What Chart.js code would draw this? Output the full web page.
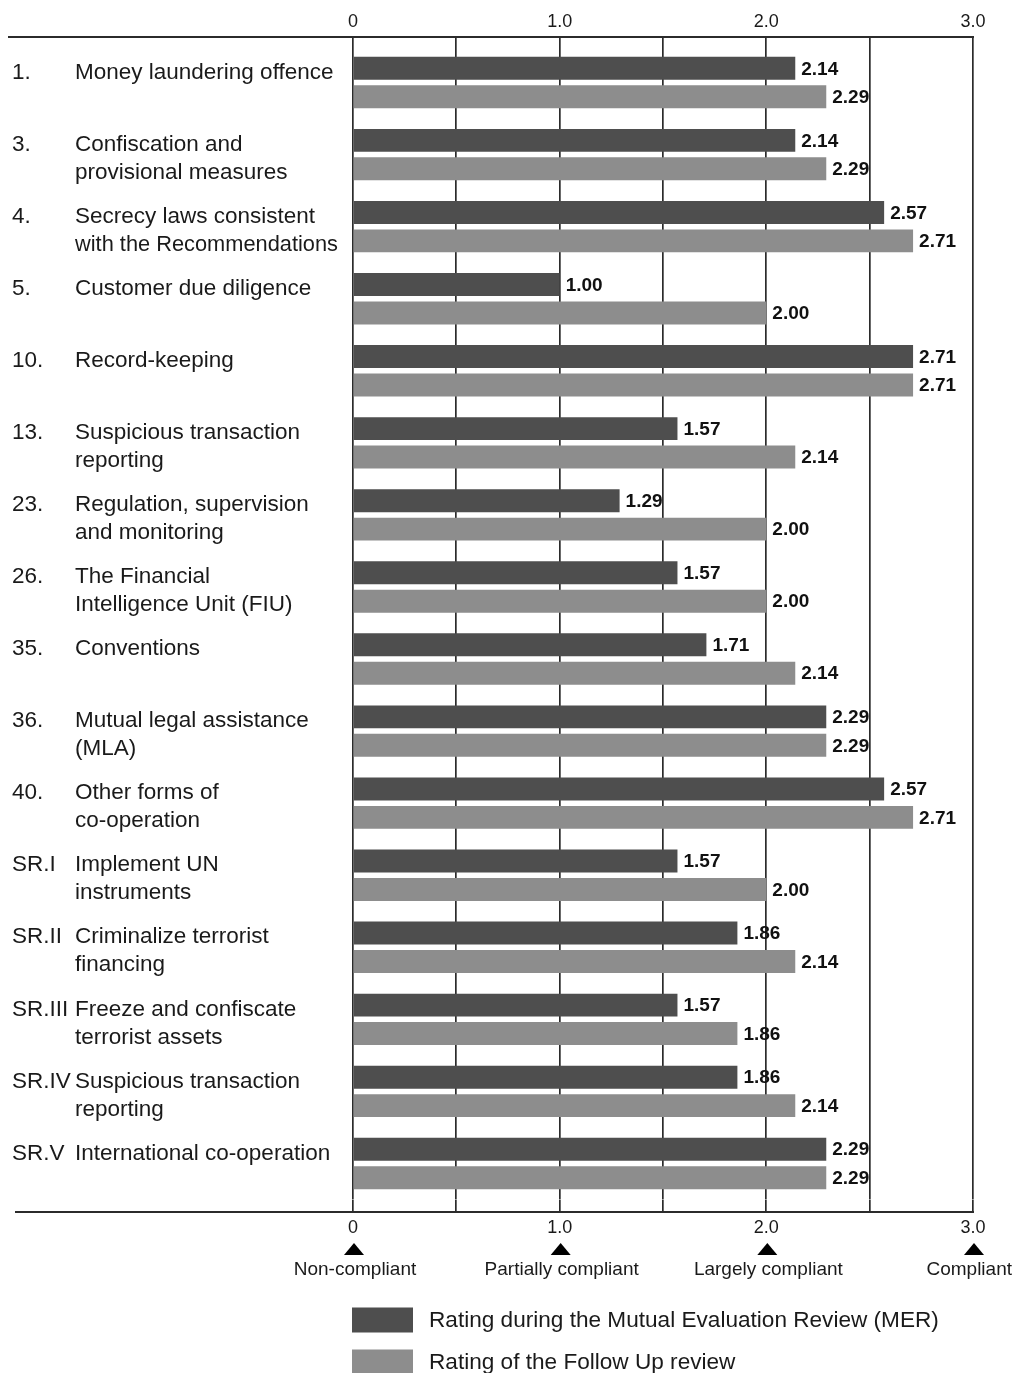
<!DOCTYPE html>
<html>
<head>
<meta charset="utf-8">
<script src="https://cdn.jsdelivr.net/npm/chart.js@4/dist/chart.umd.min.js"></script>
<style>
  html, body { margin: 0; padding: 0; background: #ffffff; }
  canvas { display: block; }
</style>
</head>
<body>
<canvas id="ratings" width="1014" height="1373"></canvas>
<script>
// Recommendation numbers (left column) and their titles (second column)
const itemNumbers = ['1.', '3.', '4.', '5.', '10.', '13.', '23.', '26.', '35.', '36.', '40.',
  'SR.I', 'SR.II', 'SR.III', 'SR.IV', 'SR.V'];
const itemNames = [
  ['Money laundering offence'],
  ['Confiscation and', 'provisional measures'],
  ['Secrecy laws consistent', 'with the Recommendations'],
  ['Customer due diligence'],
  ['Record-keeping'],
  ['Suspicious transaction', 'reporting'],
  ['Regulation, supervision', 'and monitoring'],
  ['The Financial', 'Intelligence Unit (FIU)'],
  ['Conventions'],
  ['Mutual legal assistance', '(MLA)'],
  ['Other forms of', 'co-operation'],
  ['Implement UN', 'instruments'],
  ['Criminalize terrorist', 'financing'],
  ['Freeze and confiscate', 'terrorist assets'],
  ['Suspicious transaction', 'reporting'],
  ['International co-operation']
];

// Ratings
const merRatings      = [2.14, 2.14, 2.57, 1.00, 2.71, 1.57, 1.29, 1.57, 1.71, 2.29, 2.57, 1.57, 1.86, 1.57, 1.86, 2.29];
const followUpRatings = [2.29, 2.29, 2.71, 2.00, 2.71, 2.14, 2.00, 2.00, 2.14, 2.29, 2.71, 2.00, 2.14, 1.86, 2.14, 2.29];

// Axis tick labels and compliance levels
const tickValues = [0, 1, 2, 3];
const tickLabels = ['0', '1.0', '2.0', '3.0'];
const complianceLevels = ['Non-compliant', 'Partially compliant', 'Largely compliant', 'Compliant'];
const seriesNames = ['Rating during the Mutual Evaluation Review (MER)', 'Rating of the Follow Up review'];

const FONT = '"Liberation Sans", Arial, Helvetica, sans-serif';
const INK = '#1a1a1a';
const RULE = '#2b2b2b';

function tickText(value) {
  const i = tickValues.indexOf(value);
  return i >= 0 ? tickLabels[i] : '';
}

// Horizontal rules above and below the plot, spanning the label column
const framePlugin = {
  id: 'frame',
  beforeDatasetsDraw(chart) {
    const { ctx, chartArea } = chart;
    const right = chart.scales.x.getPixelForValue(3);
    ctx.save();
    ctx.strokeStyle = RULE;
    ctx.lineWidth = 2;
    ctx.beginPath();
    ctx.moveTo(8, chartArea.top - 9.5);
    ctx.lineTo(right + 1, chartArea.top - 9.5);
    ctx.moveTo(15, chartArea.bottom + 12.5);
    ctx.lineTo(right + 1, chartArea.bottom + 12.5);
    ctx.stroke();
    ctx.restore();
  }
};

// Recommendation number and title beside each pair of bars
const itemLabelPlugin = {
  id: 'itemLabels',
  afterDraw(chart) {
    const { ctx, chartArea } = chart;
    const ys = chart.scales.y;
    const textX = 75;
    const maxW = chartArea.left - textX - 15;
    ctx.save();
    ctx.font = '22.5px ' + FONT;
    ctx.fillStyle = INK;
    ctx.textAlign = 'left';
    ctx.textBaseline = 'middle';
    itemNumbers.forEach((num, i) => {
      const cy = ys.getPixelForValue(i);
      ctx.fillText(num, 12, cy - 10);
      itemNames[i].forEach((line, k) => {
        ctx.fillText(line, textX, cy - 10 + k * 28, maxW);
      });
    });
    ctx.restore();
  }
};

// Value labels at the end of each bar
const valueLabelPlugin = {
  id: 'valueLabels',
  afterDatasetsDraw(chart) {
    const { ctx } = chart;
    ctx.save();
    ctx.font = 'bold 19px ' + FONT;
    ctx.fillStyle = '#111111';
    ctx.textAlign = 'left';
    ctx.textBaseline = 'middle';
    chart.data.datasets.forEach((ds, di) => {
      chart.getDatasetMeta(di).data.forEach((bar, i) => {
        ctx.fillText(ds.data[i].toFixed(2), bar.x + 6, bar.y + 1);
      });
    });
    ctx.restore();
  }
};

// Compliance markers under the bottom axis and the legend
const footerPlugin = {
  id: 'footer',
  afterDraw(chart) {
    const { ctx, chartArea, canvas } = chart;
    const xs = chart.scales.x;
    const base = chartArea.bottom;
    ctx.save();
    tickValues.forEach((v, i) => {
      const px = xs.getPixelForValue(v) + 1;
      ctx.fillStyle = '#000000';
      ctx.beginPath();
      ctx.moveTo(px, base + 43.5);
      ctx.lineTo(px + 10, base + 55.5);
      ctx.lineTo(px - 10, base + 55.5);
      ctx.closePath();
      ctx.fill();

      ctx.font = '19px ' + FONT;
      ctx.fillStyle = INK;
      ctx.textBaseline = 'middle';
      ctx.textAlign = 'center';
      const w = ctx.measureText(complianceLevels[i]).width;
      let cx = px + 1;
      if (cx + w / 2 > canvas.width - 2) cx = canvas.width - 2 - w / 2;
      ctx.fillText(complianceLevels[i], cx, base + 70);
    });

    const boxX = xs.getPixelForValue(0) - 1;
    chart.data.datasets.forEach((ds, di) => {
      const top = base + 108 + di * 42;
      ctx.fillStyle = ds.backgroundColor;
      ctx.fillRect(boxX, top, 61, 25);
      ctx.font = '22.6px ' + FONT;
      ctx.fillStyle = INK;
      ctx.textAlign = 'left';
      ctx.textBaseline = 'middle';
      ctx.fillText(ds.label, boxX + 77, top + 13);
    });
    ctx.restore();
  }
};

const halfSteps = [0, 0.5, 1, 1.5, 2, 2.5, 3];

new Chart(document.getElementById('ratings'), {
  type: 'bar',
  data: {
    labels: itemNumbers,
    datasets: [
      {
        label: seriesNames[0],
        data: merRatings,
        backgroundColor: '#4e4e4e',
        categoryPercentage: 0.79,
        barPercentage: 0.807
      },
      {
        label: seriesNames[1],
        data: followUpRatings,
        backgroundColor: '#8d8d8d',
        categoryPercentage: 0.79,
        barPercentage: 0.807
      }
    ]
  },
  options: {
    indexAxis: 'y',
    responsive: false,
    devicePixelRatio: 1,
    animation: false,
    layout: { padding: { left: 353, right: 41, top: 0, bottom: 0 } },
    plugins: {
      legend: { display: false },
      tooltip: { enabled: false }
    },
    scales: {
      x: {
        type: 'linear',
        position: 'top',
        min: 0,
        max: 3,
        afterBuildTicks: s => { s.ticks = halfSteps.map(v => ({ value: v })); },
        afterFit: s => { s.height = 46.5; },
        grid: { color: RULE, lineWidth: 1.7, tickLength: 9.5, drawTicks: true },
        border: { display: false },
        ticks: {
          autoSkip: false,
          maxRotation: 0,
          padding: 4,
          color: INK,
          font: { family: FONT, size: 18 },
          callback: tickText
        }
      },
      x2: {
        type: 'linear',
        position: 'bottom',
        min: 0,
        max: 3,
        afterBuildTicks: s => { s.ticks = halfSteps.map(v => ({ value: v })); },
        afterFit: s => { s.height = 173.5; },
        grid: { color: RULE, lineWidth: 1.7, tickLength: 12.5, drawOnChartArea: false, drawTicks: true },
        border: { display: false },
        ticks: {
          autoSkip: false,
          maxRotation: 0,
          padding: 5,
          color: INK,
          font: { family: FONT, size: 18 },
          callback: tickText
        }
      },
      y: {
        type: 'category',
        offset: true,
        display: false
      }
    }
  },
  plugins: [framePlugin, valueLabelPlugin, itemLabelPlugin, footerPlugin]
});
</script>
</body>
</html>
